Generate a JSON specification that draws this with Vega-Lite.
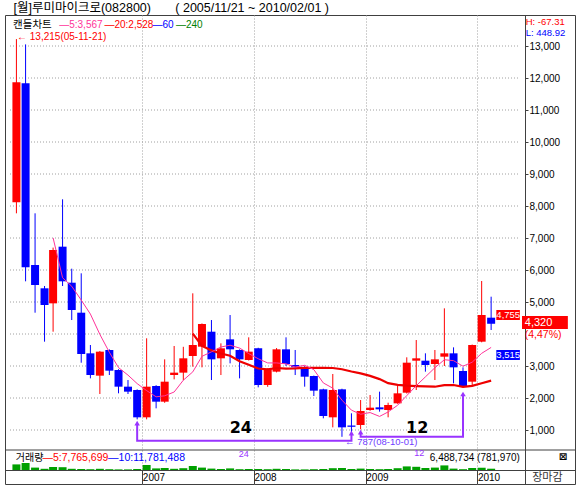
{
  "$schema": "https://vega.github.io/schema/vega-lite/v6.json",
  "width": 570,
  "height": 469,
  "autosize": {"type": "none"},
  "padding": {"left": 5, "top": 15, "right": 3, "bottom": 6},
  "background": "#ffffff",
  "config": {"view": {"stroke": "#404040", "strokeWidth": 1}, "font": "Liberation Sans"},
  "title": {"text": "[월]루미마이크로(082800)\u00a0\u00a0\u00a0\u00a0\u00a0\u00a0\u00a0( 2005/11/21 ~ 2010/02/01 )", "anchor": "start", "font": "Liberation Sans, Noto Sans CJK KR", "fontSize": 12.5, "fontWeight": "normal", "color": "#000000", "offset": 1, "dx": 9},
  "datasets": {
    "candles": [
      {"date":"2005-11-15","open":8115,"high":13215,"low":7771,"close":11866,"volume":28000000},
      {"date":"2005-12-15","open":11834,"high":13050,"low":5646,"close":6084,"volume":35000000},
      {"date":"2006-01-15","open":6156,"high":7771,"low":4666,"close":5531,"volume":12000000},
      {"date":"2006-02-15","open":5428,"high":5500,"low":3760,"close":4906,"volume":6000000},
      {"date":"2006-03-15","open":4958,"high":6700,"low":4072,"close":6625,"volume":15000000},
      {"date":"2006-04-15","open":6729,"high":8209,"low":5500,"close":5646,"volume":14000000},
      {"date":"2006-05-15","open":5603,"high":6041,"low":4437,"close":4750,"volume":6000000},
      {"date":"2006-06-15","open":4666,"high":5896,"low":3103,"close":3375,"volume":5000000},
      {"date":"2006-07-15","open":3396,"high":3656,"low":2614,"close":2718,"volume":4000000},
      {"date":"2006-08-15","open":2698,"high":3470,"low":2125,"close":3448,"volume":6000000},
      {"date":"2006-09-15","open":3500,"high":3520,"low":2718,"close":2854,"volume":4000000},
      {"date":"2006-10-15","open":2875,"high":2900,"low":2146,"close":2354,"volume":3000000},
      {"date":"2006-11-15","open":2354,"high":2562,"low":2125,"close":2198,"volume":3000000},
      {"date":"2006-12-15","open":2250,"high":2270,"low":1333,"close":1396,"volume":5000000},
      {"date":"2007-01-15","open":1396,"high":3865,"low":1333,"close":2354,"volume":25000000},
      {"date":"2007-02-15","open":2375,"high":2400,"low":1677,"close":1885,"volume":8000000},
      {"date":"2007-03-15","open":1885,"high":3208,"low":1850,"close":2510,"volume":10000000},
      {"date":"2007-04-15","open":2718,"high":3625,"low":2583,"close":2792,"volume":6000000},
      {"date":"2007-05-15","open":2792,"high":3600,"low":2560,"close":3240,"volume":9000000},
      {"date":"2007-06-15","open":3312,"high":5271,"low":2979,"close":3656,"volume":20000000},
      {"date":"2007-07-15","open":3604,"high":4330,"low":2958,"close":4312,"volume":12000000},
      {"date":"2007-08-15","open":4072,"high":4437,"low":2562,"close":3208,"volume":7000000},
      {"date":"2007-09-15","open":3240,"high":3708,"low":2718,"close":3552,"volume":5000000},
      {"date":"2007-10-15","open":3833,"high":4593,"low":3083,"close":3521,"volume":8000000},
      {"date":"2007-11-15","open":3500,"high":3520,"low":2614,"close":3208,"volume":4000000},
      {"date":"2007-12-15","open":3187,"high":3896,"low":3170,"close":3448,"volume":5000000},
      {"date":"2008-01-15","open":3552,"high":3570,"low":2333,"close":2406,"volume":5000000},
      {"date":"2008-02-15","open":2406,"high":2930,"low":2350,"close":2896,"volume":4000000},
      {"date":"2008-03-15","open":2823,"high":3560,"low":2800,"close":3521,"volume":6000000},
      {"date":"2008-04-15","open":3521,"high":3896,"low":3000,"close":3062,"volume":5000000},
      {"date":"2008-05-15","open":3031,"high":3500,"low":2718,"close":2958,"volume":3000000},
      {"date":"2008-06-15","open":2958,"high":2990,"low":2354,"close":2666,"volume":3000000},
      {"date":"2008-07-15","open":2687,"high":2700,"low":2062,"close":2229,"volume":4000000},
      {"date":"2008-08-15","open":2271,"high":2290,"low":1365,"close":1437,"volume":5000000},
      {"date":"2008-09-15","open":1396,"high":2750,"low":1083,"close":2250,"volume":9000000},
      {"date":"2008-10-15","open":2271,"high":2290,"low":787,"close":1083,"volume":10000000},
      {"date":"2008-11-15","open":1140,"high":1521,"low":896,"close":1100,"volume":5000000},
      {"date":"2008-12-15","open":1156,"high":1937,"low":1021,"close":1594,"volume":7000000},
      {"date":"2009-01-15","open":1625,"high":2094,"low":1600,"close":1698,"volume":5000000},
      {"date":"2009-02-15","open":1708,"high":2198,"low":1573,"close":1646,"volume":4000000},
      {"date":"2009-03-15","open":1625,"high":1853,"low":1396,"close":1781,"volume":5000000},
      {"date":"2009-04-15","open":1833,"high":2406,"low":1820,"close":2146,"volume":9000000},
      {"date":"2009-05-15","open":2166,"high":3271,"low":2140,"close":3104,"volume":18000000},
      {"date":"2009-06-15","open":3166,"high":3812,"low":2250,"close":3240,"volume":16000000},
      {"date":"2009-07-15","open":3166,"high":3396,"low":2823,"close":3031,"volume":10000000},
      {"date":"2009-08-15","open":3062,"high":3500,"low":2562,"close":3208,"volume":12000000},
      {"date":"2009-09-15","open":3291,"high":4802,"low":3000,"close":3396,"volume":23000000},
      {"date":"2009-10-15","open":3396,"high":3583,"low":2458,"close":2958,"volume":7000000},
      {"date":"2009-11-15","open":2844,"high":2958,"low":2350,"close":2375,"volume":4000000},
      {"date":"2009-12-15","open":2510,"high":3670,"low":2406,"close":3656,"volume":10000000},
      {"date":"2010-01-15","open":3760,"high":5656,"low":3740,"close":4593,"volume":11300000},
      {"date":"2010-02-15","open":4510,"high":5166,"low":4125,"close":4320,"volume":6488734}
    ],
    "paths": [
      {"path":"A","ord":1,"date":"2006-12-15","value":1190},
      {"path":"A","ord":2,"date":"2006-12-15","value":666},
      {"path":"A","ord":3,"date":"2008-11-15","value":666},
      {"path":"A","ord":4,"date":"2008-11-15","value":875},
      {"path":"B","ord":1,"date":"2008-12-15","value":906},
      {"path":"B","ord":2,"date":"2008-12-15","value":790},
      {"path":"B","ord":3,"date":"2009-11-15","value":790},
      {"path":"B","ord":4,"date":"2009-11-15","value":2100}
    ],
    "tips": [
      {"date":"2006-12-15","value":1215},
      {"date":"2008-11-15","value":900},
      {"date":"2008-12-15","value":930},
      {"date":"2009-11-15","value":2125}
    ],
    "levels": [
      {"level":1000},{"level":2000},{"level":3000},{"level":4000},{"level":5000},{"level":6000},{"level":7000},
      {"level":8000},{"level":9000},{"level":10000},{"level":11000},{"level":12000},{"level":13000}
    ]
  },
  "layer": [
    {
      "data": {"name": "candles"},
      "mark": {"type": "bar", "size": 8, "color": "#00a000"},
      "encoding": {
        "x": {"field": "date", "type": "temporal",
              "scale": {"type": "utc", "domain": [{"year":2005,"month":10,"date":25,"utc":true},{"year":2010,"month":10,"date":31,"utc":true}]},
              "axis": {"orient": "bottom", "offset": -14, "title": null, "format": "%Y",
                       "values": [{"year":2007,"month":1,"date":1,"utc":true},{"year":2008,"month":1,"date":1,"utc":true},{"year":2009,"month":1,"date":1,"utc":true},{"year":2010,"month":1,"date":1,"utc":true}],
                       "tickSize": 14, "tickColor": "#404040", "domainColor": "#404040",
                       "grid": true, "gridColor": "#a0a0a0", "gridDash": [1, 2],
                       "labelAlign": "left", "labelBaseline": "middle", "labelPadding": -7, "labelDx": 2.5,
                       "labelFont": "Liberation Sans", "labelFontSize": 10, "labelColor": "#000000",
                       "labelFlush": false, "labelOverlap": false}},
        "y": {"field": "volume", "type": "quantitative", "scale": {"domain": [-70000000, 2275000000], "nice": false, "zero": false}, "axis": null}
      }
    },
    {
      "layer": [
        {
          "data": {"name": "levels"},
          "mark": {"type": "rule", "color": "#a0a0a0", "strokeDash": [1, 2], "strokeWidth": 1},
          "encoding": {
            "x": {"datum": {"year":2005,"month":10,"date":25,"utc":true}, "type": "temporal"},
            "x2": {"datum": {"year":2010,"month":5,"date":20,"utc":true}},
            "y": {"field": "level", "type": "quantitative",
                  "scale": {"domain": [-687.5, 13968.75], "nice": false, "zero": false},
                  "axis": {"orient": "right", "offset": -50, "title": null, "grid": false,
                           "values": [1000,2000,3000,5000,6000,7000,8000,9000,10000,11000,12000,13000],
                           "format": ",d", "tickSize": 3, "tickColor": "#404040", "domainColor": "#404040",
                           "labelPadding": 1, "labelAlign": "left", "labelBaseline": "middle",
                           "labelFont": "Liberation Sans", "labelFontSize": 10, "labelColor": "#000000"}}
          }
        },
        {
          "data": {"values": [{}]},
          "mark": {"type": "rule", "color": "#404040", "strokeWidth": 1},
          "encoding": {"y": {"datum": 375, "type": "quantitative"}}
        },
        {
          "data": {"name": "candles"},
          "mark": {"type": "rule", "strokeWidth": 1},
          "encoding": {
            "x": {"field": "date", "type": "temporal"},
            "y": {"field": "low", "type": "quantitative"},
            "y2": {"field": "high"},
            "color": {"condition": {"test": "datum.close >= datum.open", "value": "#ff0000"}, "value": "#0000ff"}
          }
        },
        {
          "data": {"name": "candles"},
          "mark": {"type": "bar", "size": 8},
          "encoding": {
            "x": {"field": "date", "type": "temporal"},
            "y": {"field": "open", "type": "quantitative"},
            "y2": {"field": "close"},
            "color": {"condition": {"test": "datum.close >= datum.open", "value": "#ff0000"}, "value": "#0000ff"}
          }
        },
        {
          "data": {"name": "candles"},
          "transform": [
            {"window": [{"op": "mean", "field": "close", "as": "ma20"}, {"op": "count", "as": "n20"}], "frame": [-19, 0], "sort": [{"field": "date"}]},
            {"filter": "datum.n20 >= 20"}
          ],
          "mark": {"type": "line", "color": "#ee0000", "strokeWidth": 2.2},
          "encoding": {"x": {"field": "date", "type": "temporal"}, "y": {"field": "ma20", "type": "quantitative"}}
        },
        {
          "data": {"name": "candles"},
          "transform": [
            {"window": [{"op": "mean", "field": "close", "as": "ma5"}, {"op": "count", "as": "n5"}], "frame": [-4, 0], "sort": [{"field": "date"}]},
            {"filter": "datum.n5 >= 5"}
          ],
          "mark": {"type": "line", "color": "#ff3399", "strokeWidth": 1},
          "encoding": {"x": {"field": "date", "type": "temporal"}, "y": {"field": "ma5", "type": "quantitative"}}
        },
        {
          "data": {"name": "paths"},
          "mark": {"type": "line", "color": "#9933ff", "strokeWidth": 2},
          "encoding": {
            "x": {"field": "date", "type": "temporal"},
            "y": {"field": "value", "type": "quantitative"},
            "detail": {"field": "path"},
            "order": {"field": "ord"}
          }
        },
        {
          "data": {"name": "tips"},
          "mark": {"type": "point", "shape": "triangle-up", "filled": true, "size": 30, "color": "#9933ff", "opacity": 1},
          "encoding": {"x": {"field": "date", "type": "temporal"}, "y": {"field": "value", "type": "quantitative"}}
        },
        {
          "data": {"values": [{}]},
          "mark": {"type": "rect", "color": "#ff0000"},
          "encoding": {
            "x": {"datum": {"year":2010,"month":3,"date":4,"utc":true}, "type": "temporal"},
            "x2": {"datum": {"year":2010,"month":5,"date":20,"utc":true}},
            "y": {"datum": 4750, "type": "quantitative"}, "y2": {"datum": 4437}
          }
        },
        {
          "data": {"values": [{}]},
          "mark": {"type": "rect", "color": "#0000ff"},
          "encoding": {
            "x": {"datum": {"year":2010,"month":3,"date":4,"utc":true}, "type": "temporal"},
            "x2": {"datum": {"year":2010,"month":5,"date":20,"utc":true}},
            "y": {"datum": 3500, "type": "quantitative"}, "y2": {"datum": 3187}
          }
        },
        {
          "data": {"values": [{}]},
          "mark": {"type": "rect", "color": "#ff0000"},
          "encoding": {
            "x": {"datum": {"year":2010,"month":5,"date":27,"utc":true}, "type": "temporal"},
            "x2": {"datum": {"year":2010,"month":10,"date":24,"utc":true}},
            "y": {"datum": 4562, "type": "quantitative"}, "y2": {"datum": 4156}
          }
        },
        {
          "data": {"values": [{}]},
          "mark": {"type": "text", "text": "4,755", "align": "center", "baseline": "middle", "fontSize": 9.5, "color": "#ffffff"},
          "encoding": {"x": {"datum": {"year":2010,"month":4,"date":12,"utc":true}, "type": "temporal"}, "y": {"datum": 4594, "type": "quantitative"}}
        },
        {
          "data": {"values": [{}]},
          "mark": {"type": "text", "text": "3,515", "align": "center", "baseline": "middle", "fontSize": 9.5, "color": "#ffffff"},
          "encoding": {"x": {"datum": {"year":2010,"month":4,"date":12,"utc":true}, "type": "temporal"}, "y": {"datum": 3344, "type": "quantitative"}}
        },
        {
          "data": {"values": [{}]},
          "mark": {"type": "text", "text": "4,320", "align": "left", "baseline": "middle", "fontSize": 11, "color": "#ffffff"},
          "encoding": {"x": {"datum": {"year":2010,"month":6,"date":5,"utc":true}, "type": "temporal"}, "y": {"datum": 4359, "type": "quantitative"}}
        },
        {
          "data": {"values": [{}]},
          "mark": {"type": "text", "text": "(4,47%)", "align": "left", "baseline": "middle", "fontSize": 10.5, "color": "#ff0000"},
          "encoding": {"x": {"datum": {"year":2010,"month":6,"date":5,"utc":true}, "type": "temporal"}, "y": {"datum": 3969, "type": "quantitative"}}
        },
        {
          "data": {"values": [{}]},
          "mark": {"type": "text", "text": "캔들차트", "align": "left", "baseline": "middle", "font": "Noto Sans CJK KR", "fontSize": 10.5, "color": "#000000"},
          "encoding": {"x": {"datum": {"year":2005,"month":11,"date":4,"utc":true}, "type": "temporal"}, "y": {"datum": 13650, "type": "quantitative"}}
        },
        {
          "data": {"values": [{}]},
          "mark": {"type": "text", "text": "—5:3,567", "align": "left", "baseline": "middle", "fontSize": 10, "color": "#ff3399"},
          "encoding": {"x": {"datum": {"year":2006,"month":4,"date":4,"utc":true}, "type": "temporal"}, "y": {"datum": 13650, "type": "quantitative"}}
        },
        {
          "data": {"values": [{}]},
          "mark": {"type": "text", "text": "—20:2,528", "align": "left", "baseline": "middle", "fontSize": 10, "color": "#ff0000"},
          "encoding": {"x": {"datum": {"year":2006,"month":8,"date":30,"utc":true}, "type": "temporal"}, "y": {"datum": 13650, "type": "quantitative"}}
        },
        {
          "data": {"values": [{}]},
          "mark": {"type": "text", "text": "—60", "align": "left", "baseline": "middle", "fontSize": 10, "color": "#0000ff"},
          "encoding": {"x": {"datum": {"year":2007,"month":2,"date":3,"utc":true}, "type": "temporal"}, "y": {"datum": 13650, "type": "quantitative"}}
        },
        {
          "data": {"values": [{}]},
          "mark": {"type": "text", "text": "—240", "align": "left", "baseline": "middle", "fontSize": 10, "color": "#008000"},
          "encoding": {"x": {"datum": {"year":2007,"month":4,"date":21,"utc":true}, "type": "temporal"}, "y": {"datum": 13650, "type": "quantitative"}}
        },
        {
          "data": {"values": [{}]},
          "mark": {"type": "text", "text": "← 13,215(05-11-21)", "align": "left", "baseline": "middle", "fontSize": 10, "color": "#ff0000"},
          "encoding": {"x": {"datum": {"year":2005,"month":11,"date":17,"utc":true}, "type": "temporal"}, "y": {"datum": 13281, "type": "quantitative"}}
        },
        {
          "data": {"values": [{}]},
          "mark": {"type": "text", "text": "H: -67.31", "align": "left", "baseline": "middle", "fontSize": 9.5, "color": "#ff0000"},
          "encoding": {"x": {"datum": {"year":2010,"month":6,"date":8,"utc":true}, "type": "temporal"}, "y": {"datum": 13750, "type": "quantitative"}}
        },
        {
          "data": {"values": [{}]},
          "mark": {"type": "text", "text": "L: 448.92", "align": "left", "baseline": "middle", "fontSize": 9.5, "color": "#0000ff"},
          "encoding": {"x": {"datum": {"year":2010,"month":6,"date":8,"utc":true}, "type": "temporal"}, "y": {"datum": 13406, "type": "quantitative"}}
        },
        {
          "data": {"values": [{}]},
          "mark": {"type": "text", "text": "24", "align": "center", "baseline": "middle", "font": "DejaVu Sans", "fontWeight": "bold", "fontSize": 16, "color": "#000000"},
          "encoding": {"x": {"datum": {"year":2007,"month":11,"date":19,"utc":true}, "type": "temporal"}, "y": {"datum": 1078, "type": "quantitative"}}
        },
        {
          "data": {"values": [{}]},
          "mark": {"type": "text", "text": "12", "align": "center", "baseline": "middle", "font": "DejaVu Sans", "fontWeight": "bold", "fontSize": 16, "color": "#000000"},
          "encoding": {"x": {"datum": {"year":2009,"month":6,"date":18,"utc":true}, "type": "temporal"}, "y": {"datum": 1062, "type": "quantitative"}}
        },
        {
          "data": {"values": [{}]},
          "mark": {"type": "text", "text": "24", "align": "center", "baseline": "middle", "fontSize": 9, "color": "#9933ff"},
          "encoding": {"x": {"datum": {"year":2007,"month":11,"date":29,"utc":true}, "type": "temporal"}, "y": {"datum": 250, "type": "quantitative"}}
        },
        {
          "data": {"values": [{}]},
          "mark": {"type": "text", "text": "12", "align": "center", "baseline": "middle", "fontSize": 9, "color": "#9933ff"},
          "encoding": {"x": {"datum": {"year":2009,"month":6,"date":25,"utc":true}, "type": "temporal"}, "y": {"datum": 270, "type": "quantitative"}}
        },
        {
          "data": {"values": [{}]},
          "mark": {"type": "text", "text": "← 787(08-10-01)", "align": "left", "baseline": "middle", "fontSize": 9.5, "color": "#7040ff"},
          "encoding": {"x": {"datum": {"year":2008,"month":10,"date":25,"utc":true}, "type": "temporal"}, "y": {"datum": 630, "type": "quantitative"}}
        },
        {
          "data": {"values": [{}]},
          "mark": {"type": "text", "text": "거래량", "align": "left", "baseline": "middle", "font": "Noto Sans CJK KR", "fontSize": 10, "color": "#000000"},
          "encoding": {"x": {"datum": {"year":2005,"month":11,"date":13,"utc":true}, "type": "temporal"}, "y": {"datum": 125, "type": "quantitative"}}
        },
        {
          "data": {"values": [{}]},
          "mark": {"type": "text", "text": "—5:7,765,699", "align": "left", "baseline": "middle", "fontSize": 10.5, "color": "#ff0000"},
          "encoding": {"x": {"datum": {"year":2006,"month":2,"date":8,"utc":true}, "type": "temporal"}, "y": {"datum": 125, "type": "quantitative"}}
        },
        {
          "data": {"values": [{}]},
          "mark": {"type": "text", "text": "—10:11,781,488", "align": "left", "baseline": "middle", "fontSize": 10.5, "color": "#0000ff"},
          "encoding": {"x": {"datum": {"year":2006,"month":9,"date":11,"utc":true}, "type": "temporal"}, "y": {"datum": 125, "type": "quantitative"}}
        },
        {
          "data": {"values": [{}]},
          "mark": {"type": "text", "text": "6,488,734 (781,970)", "align": "right", "baseline": "middle", "fontSize": 10, "color": "#000000"},
          "encoding": {"x": {"datum": {"year":2010,"month":5,"date":20,"utc":true}, "type": "temporal"}, "y": {"datum": 125, "type": "quantitative"}}
        },
        {
          "data": {"values": [{}]},
          "mark": {"type": "text", "text": "⊠", "align": "center", "baseline": "middle", "font": "DejaVu Sans", "fontWeight": "bold", "fontSize": 10, "color": "#000000"},
          "encoding": {"x": {"datum": {"year":2010,"month":10,"date":8,"utc":true}, "type": "temporal"}, "y": {"datum": 156, "type": "quantitative"}}
        },
        {
          "data": {"values": [{}]},
          "mark": {"type": "text", "text": "장마감", "align": "center", "baseline": "middle", "font": "Noto Sans CJK KR", "fontSize": 11, "color": "#333333"},
          "encoding": {"x": {"datum": {"year":2010,"month":8,"date":18,"utc":true}, "type": "temporal"}, "y": {"datum": -500, "type": "quantitative"}}
        }
      ]
    }
  ],
  "resolve": {"scale": {"y": "independent"}}
}
